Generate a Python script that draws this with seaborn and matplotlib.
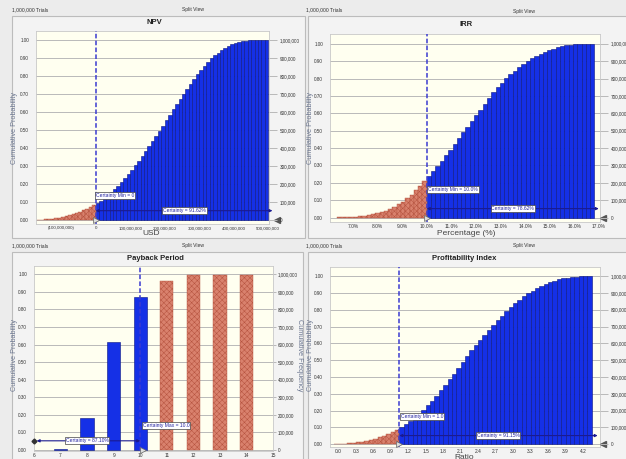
import numpy as np
import matplotlib.pyplot as plt
import seaborn as sns
from matplotlib.patches import Rectangle
from matplotlib.ticker import FuncFormatter

# cumulative probability per bin
npv_first_edge = -170_000_000
npv_bin_width = 10_000_000
npv_red = [0.001, 0.002, 0.004, 0.006, 0.008, 0.011, 0.014, 0.018, 0.022, 0.027,
           0.033, 0.039, 0.046, 0.054, 0.062, 0.071, 0.084]
npv_blue = [0.095, 0.108, 0.122, 0.138, 0.155, 0.172, 0.19, 0.21, 0.232, 0.255,
            0.28, 0.304, 0.33, 0.356, 0.383, 0.41, 0.438, 0.466, 0.495, 0.525,
            0.555, 0.585, 0.615, 0.645, 0.674, 0.702, 0.73, 0.758, 0.785, 0.81,
            0.835, 0.858, 0.879, 0.898, 0.915, 0.93, 0.944, 0.956, 0.967, 0.976,
            0.983, 0.989, 0.993, 0.996, 0.998, 0.999, 1.0, 1.0, 1.0, 1.0]

irr_first_edge = 6.325
irr_bin_width = 0.175
irr_red = [0.001, 0.002, 0.003, 0.004, 0.006, 0.008, 0.011, 0.015, 0.019, 0.025,
           0.033, 0.04, 0.052, 0.063, 0.077, 0.092, 0.111, 0.13, 0.157, 0.184, 0.213]
irr_blue = [0.24, 0.268, 0.297, 0.327, 0.358, 0.39, 0.423, 0.457, 0.49, 0.523,
            0.556, 0.588, 0.62, 0.655, 0.688, 0.72, 0.75, 0.777, 0.802, 0.825,
            0.846, 0.866, 0.886, 0.903, 0.918, 0.931, 0.943, 0.954, 0.963, 0.972,
            0.979, 0.985, 0.99, 0.994, 0.997, 0.999, 1.0, 1.0, 1.0]

pi_first_edge = -0.075
pi_bin_width = 0.075
pi_red = [0.001, 0.002, 0.003, 0.005, 0.008, 0.012, 0.016, 0.021, 0.027, 0.034,
          0.042, 0.051, 0.061, 0.073, 0.088]
pi_blue = [0.105, 0.12, 0.138, 0.158, 0.18, 0.205, 0.232, 0.26, 0.29, 0.32,
           0.352, 0.386, 0.42, 0.455, 0.49, 0.525, 0.558, 0.59, 0.62, 0.65,
           0.68, 0.71, 0.738, 0.765, 0.79, 0.815, 0.838, 0.86, 0.88, 0.898,
           0.914, 0.929, 0.942, 0.954, 0.964, 0.973, 0.98, 0.986, 0.99, 0.994,
           0.997, 0.999, 1.0, 1.0]

payback_years = [7, 8, 9, 10, 11, 12, 13, 14]
payback_cdf = [0.003, 0.18, 0.612, 0.871, 0.964, 0.994, 0.996, 0.997]

BLUE = '#1530e6'
BLUE_EDGE = '#0b1580'
RED = '#d9816d'
RED_EDGE = '#b5533f'
LINE = '#3a3ad0'
ARROW = '#1a1a90'

sns.set_style('white')
plt.rcParams['font.family'] = ['Liberation Sans', 'DejaVu Sans']
plt.rcParams['hatch.linewidth'] = 0.35

W, H = 626, 459
fig = plt.figure(figsize=(6.26, 4.59), dpi=100, facecolor='#ececec')


def fbox(x0, y0, x1, y1):
    return [x0 / W, 1 - y1 / H, (x1 - x0) / W, (y1 - y0) / H]


def ftext(x, y, s, **kw):
    fig.text(x / W, 1 - y / H, s, **kw)


# panel frames and headers
for x0, y0, x1, y1 in [(12, 16, 305, 238), (308, 16, 650, 238),
                       (12, 252, 303, 480), (308, 252, 650, 480)]:
    fig.patches.append(Rectangle((x0 / W, 1 - y1 / H), (x1 - x0) / W, (y1 - y0) / H,
                                 transform=fig.transFigure, facecolor='#f3f3f3',
                                 edgecolor='#bcbcbc', lw=0.8, zorder=-5))
for hx, hy in [(12, 10), (306, 10), (12, 246), (306, 246)]:
    ftext(hx, hy, '1,000,000 Trials', fontsize=3.6, va='center', color='#333333')
for hx, hy in [(193, 10), (524, 11), (193, 246), (524, 246)]:
    ftext(hx, hy, 'Split View', fontsize=3.6, va='center', ha='center', color='#333333')


def style_axes(ax, ylim, xsize=3.5, rlen=6, rpad=2):
    ax.set_facecolor('#fffff0')
    ax.set_ylim(*ylim)
    ax.set_yticks(np.arange(0, 1.01, 0.1))
    ax.yaxis.set_major_formatter(FuncFormatter(lambda v, p: f'{v:.2f}'))
    ax.yaxis.grid(True, color='#b9b9b9', lw=0.7)
    ax.set_axisbelow(True)
    ax.tick_params(axis='y', labelsize=3.3, length=0, pad=5, labelcolor='#333333')
    ax.tick_params(axis='x', labelsize=xsize, length=1.2, pad=0.4, color='#888888',
                   labelcolor='#333333')
    ax.set_xlabel('')
    ax.set_ylabel('')
    for s in ax.spines.values():
        s.set_color('#c8c8c8')
        s.set_linewidth(0.6)
    ax2 = ax.twinx()
    ax2.set_ylim(ylim[0] * 1e6, ylim[1] * 1e6)
    ax2.set_yticks(np.arange(0, 1000001, 100000))
    ax2.yaxis.set_major_formatter(FuncFormatter(lambda v, p: f'{v:,.0f}'))
    ax2.tick_params(axis='y', labelsize=3.3, length=rlen, width=0.7, pad=rpad,
                    color='#b9b9b9', labelcolor='#333333')
    for s in ax2.spines.values():
        s.set_visible(False)
    return ax2


def certainty(ax, x0, x1, xtxt, txt, xmin_lbl, ymin_lbl, min_txt):
    ax.annotate('', xy=(x1, 0.052), xytext=(x0, 0.052),
                arrowprops=dict(arrowstyle='<|-|>', color=ARROW, lw=0.8,
                                mutation_scale=4, shrinkA=0, shrinkB=0),
                annotation_clip=False, zorder=6)
    box = dict(facecolor='white', edgecolor='#444444', lw=0.5, pad=0.6)
    ax.text(xtxt, 0.052, txt, fontsize=3.6, color='#2323a0', ha='center',
            va='center', bbox=box, zorder=7)
    ax.text(xmin_lbl, ymin_lbl, min_txt, fontsize=3.6, color='#2323a0', ha='left',
            va='center', bbox=box, zorder=7)


def cdf_panel(rect, first_edge, width, red_vals, blue_vals, threshold, xlim):
    ax = fig.add_axes(fbox(*rect))
    n_red = len(red_vals)
    n_all = n_red + len(blue_vals)
    centers = first_edge + width * (np.arange(n_all) + 0.5)
    split = first_edge + width * n_red
    sns.histplot(x=list(centers[:n_red]), weights=list(red_vals), binwidth=width,
                 binrange=(first_edge, split), ax=ax, color=RED, edgecolor=RED_EDGE,
                 linewidth=0.3, alpha=1, hatch='xxxxxx')
    sns.histplot(x=list(centers[n_red:]), weights=list(blue_vals), binwidth=width,
                 binrange=(split, first_edge + width * n_all), ax=ax, color=BLUE,
                 edgecolor=BLUE_EDGE, linewidth=0.4, alpha=1)
    ax.axvline(threshold, color=LINE, ls=(0, (3, 1.5)), lw=1.1, zorder=5)
    ax.set_xlim(*xlim)
    ax.plot([threshold], [0.0], marker='>', ms=4, mfc='#dddddd', mec='#666666',
            mew=0.5, clip_on=False, zorder=8)
    return ax


def end_marker(ax, x):
    ax.plot([x], [0.0], marker='<', ms=4.5, color='#555555', clip_on=False, zorder=8)


YLAB = dict(fontsize=5.2, ha='center', va='center', color='#6b7690')

# NPV
ax = cdf_panel((36, 31, 269, 224), npv_first_edge, npv_bin_width, npv_red, npv_blue,
               0, (-173e6, 502e6))
npv_ticks = [-100e6, 0, 100e6, 200e6, 300e6, 400e6, 500e6]
ax.set_xticks(npv_ticks)
ax.set_xticklabels([f'({abs(v):,.0f})' if v < 0 else f'{v:,.0f}' for v in npv_ticks])
style_axes(ax, (-0.022, 1.05), xsize=3.2)
end_marker(ax, 525e6)
certainty(ax, 0, 512e6, 257e6, 'Certainty = 91.62%', 1e6, 0.135, 'Certainty Min = 0')
ftext(154, 22, 'NPV', fontsize=5.5, weight='bold', ha='center', va='center', color='#222222')
ftext(151, 233.5, 'USD', fontsize=6, ha='center', va='center', color='#444444')
ftext(14.5, 128, 'Cumulative Probability', rotation=90, **YLAB)

# IRR
ax = cdf_panel((330, 34, 600, 222), irr_first_edge, irr_bin_width, irr_red, irr_blue,
               10.0, (6.06, 17.05))
ax.set_xticks(np.arange(7, 17.1, 1))
ax.xaxis.set_major_formatter(FuncFormatter(lambda v, p: f'{v:.1f}%'))
style_axes(ax, (-0.025, 1.056))
end_marker(ax, 17.18)
certainty(ax, 10.0, 17.0, 13.5, 'Certainty = 78.62%', 10.05, 0.16, 'Certainty Min = 10.0%')
ftext(466, 24, 'IRR', fontsize=5.5, weight='bold', ha='center', va='center', color='#222222')
ftext(466, 233.5, 'Percentage (%)', fontsize=6, ha='center', va='center', color='#444444')
ftext(310, 128, 'Cumulative Probability', rotation=90, **YLAB)

# Payback period
ax = fig.add_axes(fbox(34, 266, 273, 451))
blue_years = [y for y in payback_years if y <= 10]
red_years = [y for y in payback_years if y > 10]
sns.histplot(x=blue_years, weights=payback_cdf[:len(blue_years)], discrete=True, shrink=0.5,
             ax=ax, color=BLUE, edgecolor=BLUE_EDGE, linewidth=0.4, alpha=1)
sns.histplot(x=red_years, weights=payback_cdf[len(blue_years):], discrete=True, shrink=0.5,
             ax=ax, color=RED, edgecolor=RED_EDGE, linewidth=0.3, alpha=1, hatch='xxxxxx')
ax.axvline(10, color=LINE, ls=(0, (3, 1.5)), lw=1.1, zorder=5)
ax.set_xlim(6, 15)
ax.set_xticks(range(6, 16))
style_axes(ax, (-0.006, 1.047), rlen=2, rpad=1.2)
certainty(ax, 6.1, 10.0, 8.0, 'Certainty = 87.10%', 10.1, 0.14, 'Certainty Max = 10.0')
ax.plot([6.0], [0.052], marker='D', ms=2.5, color='#333333', clip_on=False, zorder=8)
ax.plot([10.1], [0.0], marker='>', ms=4, mfc='#dddddd', mec='#666666', mew=0.5,
        clip_on=False, zorder=8)
ftext(155, 258, 'Payback Period', fontsize=5.5, weight='bold', ha='center', va='center',
      color='#222222')
ftext(14.5, 355, 'Cumulative Probability', rotation=90, **YLAB)
ftext(300, 355, 'Cumulative Frequency', rotation=270, **YLAB)
ftext(311, 355, 'Cumulative Probability', rotation=90, **YLAB)

# Profitability index
ax = cdf_panel((330, 267, 600, 447), pi_first_edge, pi_bin_width, pi_red, pi_blue,
               1.05, (-0.14, 4.49))
ax.set_xticks(np.arange(0, 4.21, 0.3))
ax.xaxis.set_major_formatter(FuncFormatter(lambda v, p: f'{v:.1f}'))
style_axes(ax, (-0.016, 1.054))
end_marker(ax, 4.55)
certainty(ax, 1.05, 4.45, 2.74, 'Certainty = 91.15%', 1.08, 0.167, 'Certainty Min = 1.0')
ftext(464, 258, 'Profitability Index', fontsize=5.5, weight='bold', ha='center',
      va='center', color='#222222')
ftext(464, 457.5, 'Ratio', fontsize=6, ha='center', va='center', color='#444444')

fig.savefig('out.png', dpi=100, facecolor=fig.get_facecolor())
